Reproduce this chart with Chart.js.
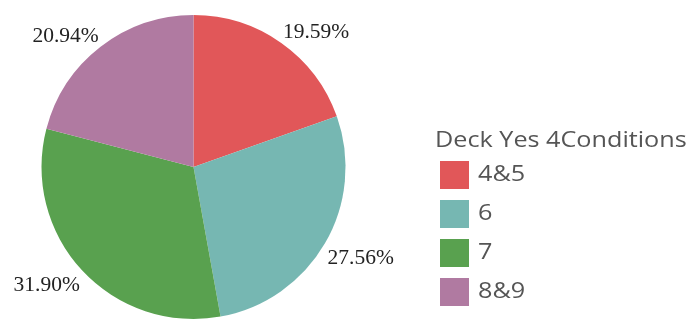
<!DOCTYPE html>
<html>
<head>
<meta charset="utf-8">
<script src="https://cdn.jsdelivr.net/npm/chart.js@4"></script>
<style>
  html, body { margin: 0; padding: 0; background: #fff; }
  #wrap { width: 692px; height: 327px; }
</style>
</head>
<body>
<div id="wrap"><canvas id="grafico" width="692" height="327"></canvas></div>
<script>
// categorias e porcentagens de cada fatia
const categorias = ['4&5', '6', '7', '8&9'];
const valores = [19.59, 27.56, 31.90, 20.94];
const cores = ['#e15759', '#76b7b2', '#59a14f', '#b07aa1'];
const tituloLegenda = 'Deck Yes 4Conditions';

// rótulos de porcentagem fora da pizza
const rotulosFora = {
  id: 'rotulosFora',
  afterDatasetsDraw(chart) {
    const ctx = chart.ctx;
    const meta = chart.getDatasetMeta(0);
    ctx.save();
    ctx.font = '21.5px "Liberation Serif", "Times New Roman", serif';
    ctx.fillStyle = '#222';
    ctx.textBaseline = 'alphabetic';
    meta.data.forEach((arc, i) => {
      const texto = valores[i].toFixed(2) + '%';
      const meio = (arc.startAngle + arc.endAngle) / 2;
      const r = arc.outerRadius + 3;
      const x = arc.x + Math.cos(meio) * r;
      const y = arc.y + Math.sin(meio) * r;
      const alt = ctx.measureText(texto).actualBoundingBoxAscent;
      ctx.textAlign = Math.cos(meio) >= 0 ? 'left' : 'right';
      // metade de cima: texto acima do ponto; metade de baixo: abaixo
      ctx.fillText(texto, x, Math.sin(meio) < 0 ? y - 2 : y + alt + 5);
    });
    ctx.restore();
  }
};

// texto um pouco mais largo na legenda
function textoLargo(ctx, t, x, y) {
  ctx.save();
  ctx.translate(x, y);
  ctx.scale(1.2, 1);
  ctx.fillText(t, 0, 0);
  ctx.restore();
}

// legenda desenhada à direita
const legenda = {
  id: 'legenda',
  afterDraw(chart) {
    const ctx = chart.ctx;
    ctx.save();
    ctx.font = '21px "Open Sans", sans-serif';
    ctx.fillStyle = '#555';
    ctx.textBaseline = 'middle';
    ctx.textAlign = 'left';
    textoLargo(ctx, tituloLegenda, 435, 141);
    categorias.forEach((c, i) => {
      const y = 175 + i * 39;
      ctx.fillStyle = cores[i];
      ctx.fillRect(440, y - 14, 29, 28);
      ctx.fillStyle = '#555';
      textoLargo(ctx, c, 478, y);
    });
    ctx.restore();
  }
};

const ctx = document.getElementById('grafico').getContext('2d');
const meuGrafico = new Chart(ctx, {
  type: 'pie',
  data: {
    labels: categorias,
    datasets: [{
      data: valores,
      backgroundColor: cores,
      borderWidth: 0
    }]
  },
  options: {
    responsive: false,
    animation: false,
    layout: { padding: { left: 41, right: 346, top: 15, bottom: 8 } },
    plugins: {
      legend: { display: false },
      tooltip: { enabled: false }
    }
  },
  plugins: [rotulosFora, legenda]
});
</script>
</body>
</html>
